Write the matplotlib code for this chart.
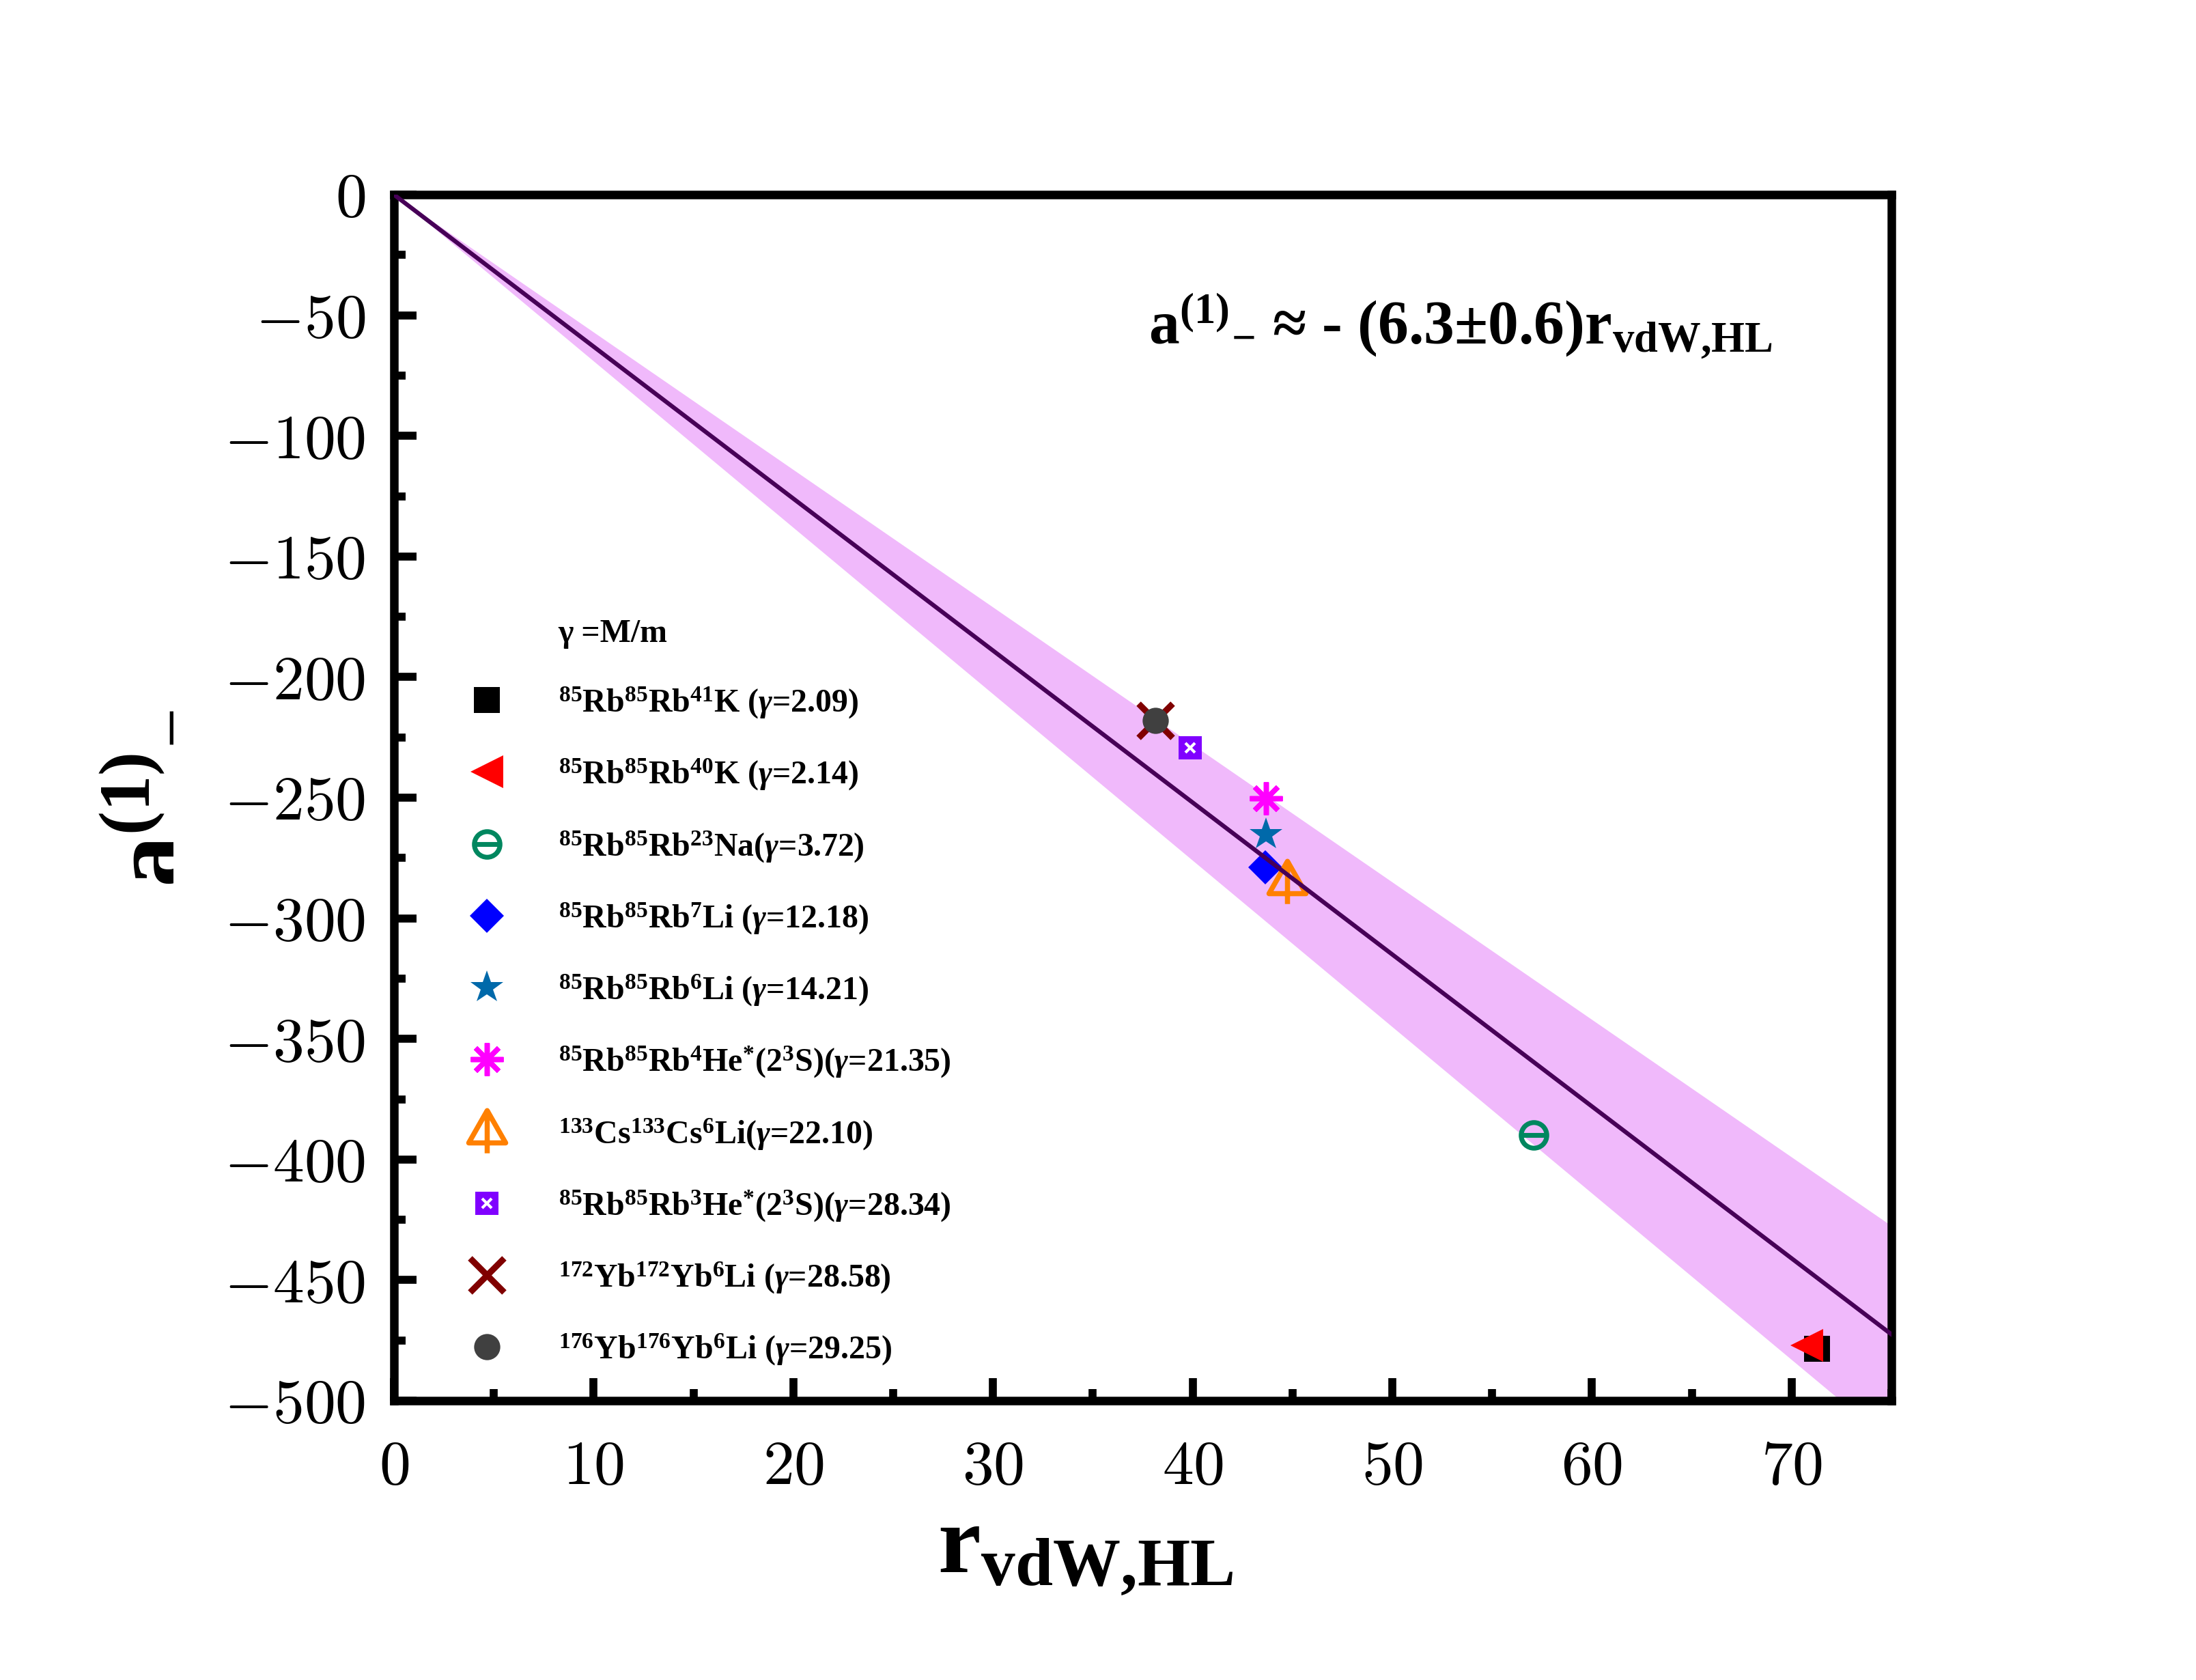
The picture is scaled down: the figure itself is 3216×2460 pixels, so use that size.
import matplotlib
matplotlib.use("Agg")
import matplotlib.pyplot as plt
import numpy as np
from matplotlib.path import Path
from matplotlib.ticker import MultipleLocator
from matplotlib.legend_handler import HandlerTuple

plt.rcParams["font.family"] = ["Liberation Serif", "DejaVu Serif"]
plt.rcParams["font.weight"] = "bold"
plt.rcParams["mathtext.fontset"] = "custom"
plt.rcParams["mathtext.rm"] = "Liberation Serif:bold"
plt.rcParams["mathtext.it"] = "Liberation Serif:italic:bold"
plt.rcParams["mathtext.bf"] = "Liberation Serif:bold"

# ---- data ----
labels = [
    r"$^{85}$Rb$^{85}$Rb$^{41}$K ($\gamma$=2.09)",
    r"$^{85}$Rb$^{85}$Rb$^{40}$K ($\gamma$=2.14)",
    r"$^{85}$Rb$^{85}$Rb$^{23}$Na($\gamma$=3.72)",
    r"$^{85}$Rb$^{85}$Rb$^{7}$Li ($\gamma$=12.18)",
    r"$^{85}$Rb$^{85}$Rb$^{6}$Li ($\gamma$=14.21)",
    r"$^{85}$Rb$^{85}$Rb$^{4}$He$^{*}$(2$^{3}$S)($\gamma$=21.35)",
    r"$^{133}$Cs$^{133}$Cs$^{6}$Li($\gamma$=22.10)",
    r"$^{85}$Rb$^{85}$Rb$^{3}$He$^{*}$(2$^{3}$S)($\gamma$=28.34)",
    r"$^{172}$Yb$^{172}$Yb$^{6}$Li ($\gamma$=28.58)",
    r"$^{176}$Yb$^{176}$Yb$^{6}$Li ($\gamma$=29.25)",
]
r_vdw = [71.27, 70.77, 57.07, 43.63, 43.67, 43.67, 44.73, 39.89, 38.14, 38.14]
a_minus = [-478.5, -477.2, -389.8, -278.8, -265.4, -250.3, -285.0, -229.3, -218.0, -218.0]

slope = 6.3
slope_err = 0.6
fit_x = np.array([0, 75])

xticks = [0, 10, 20, 30, 40, 50, 60, 70]
yticks = [0, -50, -100, -150, -200, -250, -300, -350, -400, -450, -500]

# ---- custom marker shapes ----
theta = Path.make_compound_path(Path.unit_circle(), Path([(-1, 0), (1, 0)]))
tree = Path([(0, 92.5), (-80, -47.5), (80, -47.5), (0, 92.5), (0, 92.5), (0, -92.5)],
            [Path.MOVETO, Path.LINETO, Path.LINETO, Path.CLOSEPOLY, Path.MOVETO, Path.LINETO])

styles = [
    dict(marker="s", ms=9.1, color="black", mew=0),
    dict(marker="<", ms=11.5, color="#FF0000", mew=0),
    dict(marker=theta, ms=9, mfc="none", mec="#00875F", mew=1.7),
    dict(marker="D", ms=8.5, color="#0000FF", mew=0),
    dict(marker="*", ms=12, color="#0069AA", mew=0),
    dict(marker=(8, 2, 0), ms=11.5, color="#FF00FF", mew=1.8),
    dict(marker=tree, ms=15, mfc="none", mec="#FF8000", mew=1.8),
    dict(marker="s", ms=8, color="#8000FF", mew=0),
    dict(marker="x", ms=12, color="#800000", mew=2.2),
    dict(marker="o", ms=9.2, color="#404040", mew=0),
]
inner_x = dict(marker="x", ms=3.5, color="white", mew=1.0)

fig = plt.figure(figsize=(10.72, 8.203), dpi=300)
ax = fig.add_axes([0.17942, 0.16619, 0.68190, 0.71760])

# band and fit line
ax.fill_between(fit_x, -(slope - slope_err) * fit_x, -(slope + slope_err) * fit_x,
                color="#F0B9FB", lw=0, zorder=1)
ax.plot(fit_x, -slope * fit_x, color="#470057", lw=1.5, zorder=5)

handles = []
for i in range(len(labels)):
    h, = ax.plot([r_vdw[i]], [a_minus[i]], ls="none", zorder=3, **styles[i])
    if i == 7:
        h2, = ax.plot([r_vdw[i]], [a_minus[i]], ls="none", zorder=3, **inner_x)
        handles.append((h, h2))
    else:
        handles.append(h)

header, = ax.plot([], [], ls="none", marker="none")
leg = ax.legend([header] + handles, ["γ =M/m"] + labels, loc="upper left",
                bbox_to_anchor=(0.040, 0.649), frameon=False, fontsize=11.5,
                handlelength=2.0, handletextpad=1.19, labelspacing=1.12,
                borderpad=0, borderaxespad=0,
                handler_map={tuple: HandlerTuple(ndivide=1, pad=0)})

ax.text(0.504, 0.877, r"$\mathrm{a}^{(1)}{}_{-}$ ≈ - (6.3±0.6)$\mathrm{r}_{\mathrm{vdW{,}HL}}$",
        transform=ax.transAxes, fontsize=21.5, ha="left", va="baseline")

ax.set_xlim(0, 75)
ax.set_ylim(-500, 0)
ax.set_xticks(xticks, labels=[f"${v}$" for v in xticks], math_fontfamily="cm", fontsize=22)
ax.set_yticks(yticks, labels=[f"${v}$" for v in yticks], math_fontfamily="cm", fontsize=22)
ax.xaxis.set_minor_locator(MultipleLocator(5))
ax.yaxis.set_minor_locator(MultipleLocator(25))
ax.tick_params(which="both", direction="in", top=False, right=False, width=2.8)
ax.tick_params(which="major", length=8)
ax.tick_params(which="minor", length=4)
ax.tick_params(axis="x", pad=14)
ax.tick_params(axis="y", pad=10)
for s in ax.spines.values():
    s.set_linewidth(3.0)

ax.set_xlabel(r"$\mathrm{r}_{\mathrm{vdW{,}HL}}$", fontsize=34)
ax.xaxis.set_label_coords(0.462, -0.09)
ax.set_ylabel(r"$\mathrm{a}^{(1)}{}_{-}$", fontsize=36)
ax.yaxis.set_label_coords(-0.1345, 0.5)

fig.savefig("out.png", dpi=300)
